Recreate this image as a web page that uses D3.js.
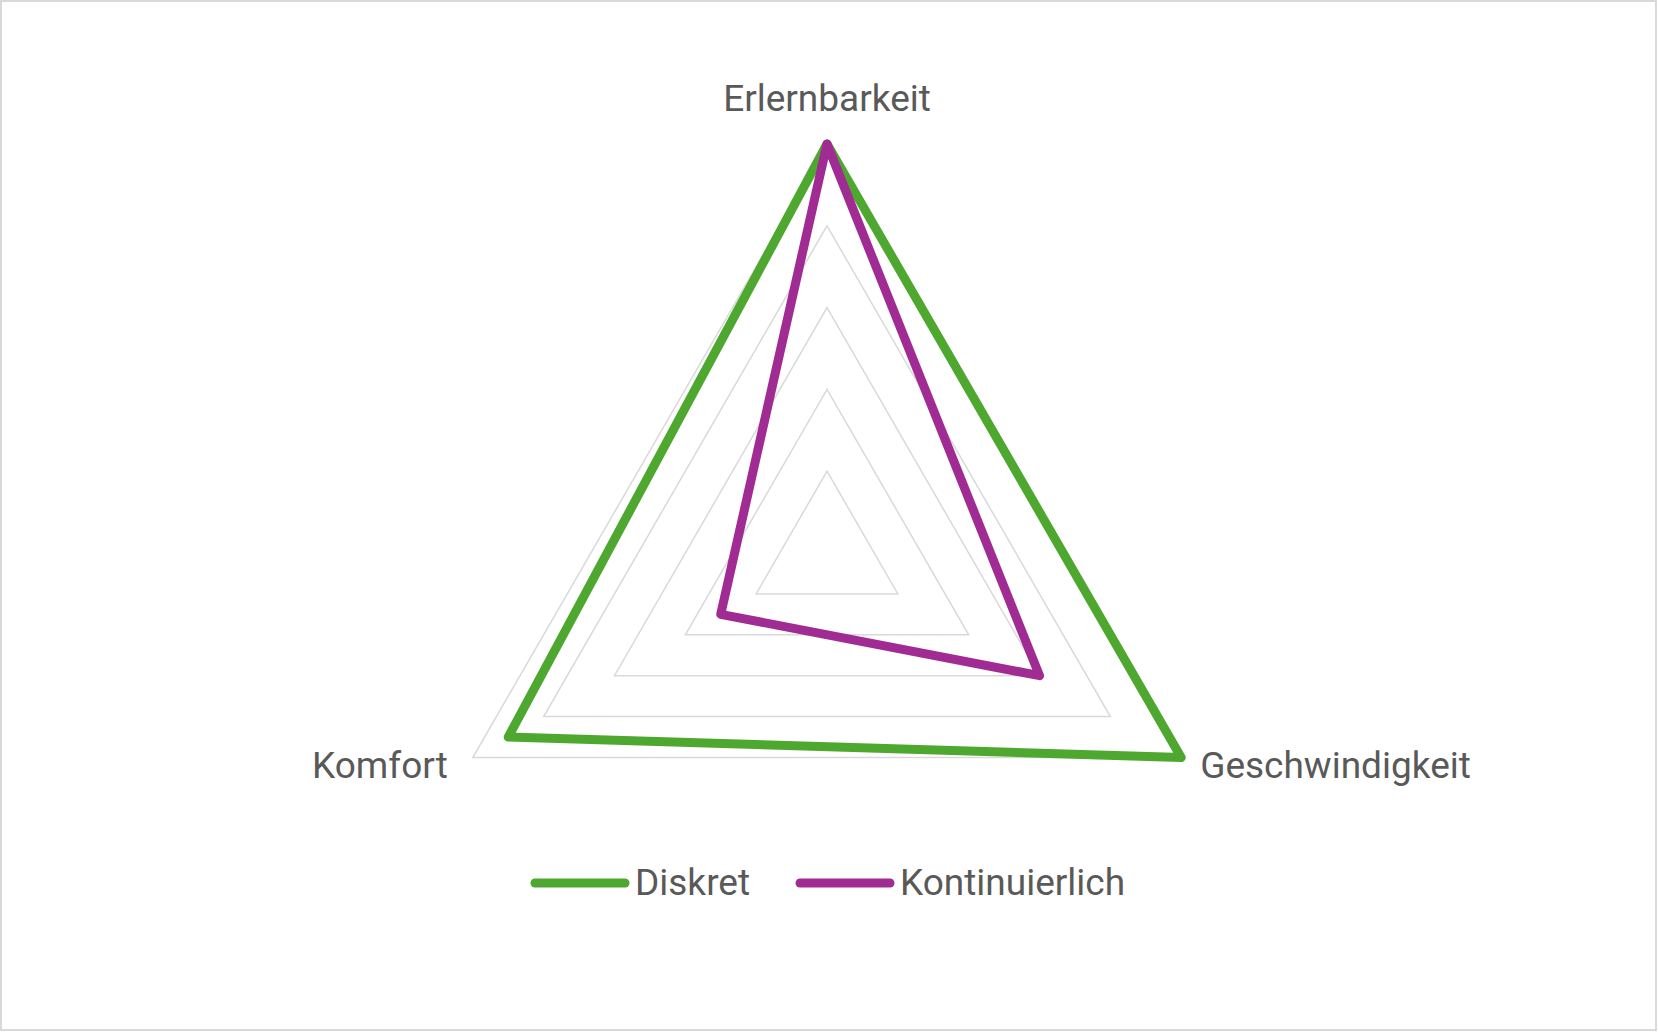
<!DOCTYPE html>
<html>
<head>
<meta charset="utf-8">
<script src="https://cdn.jsdelivr.net/npm/d3@7"></script>
<style>
    html, body { margin: 0; padding: 0; background: #fff; }
    svg { display: block; }
    text { font-family: Roboto, "Noto Sans", sans-serif; fill: #595959; }
</style>
</head>
<body>
<script>
// data
const axes = ["Erlernbarkeit", "Geschwindigkeit", "Komfort"];
const diskret = [5, 5, 4.5];
const kontinuierlich = [5, 3, 1.5];
const seriesNames = ["Diskret", "Kontinuierlich"];
const seriesColors = ["#4ea72e", "#a02b93"];
const gridLevels = [1, 2, 3, 4, 5];

const width = 1658, height = 1032;
const cx = 827, cy = 553, radius = 409;
const fontSize = 37;

const svg = d3.select("body").append("svg")
    .attr("width", width)
    .attr("height", height);

// chart border
svg.append("rect")
    .attr("x", 1).attr("y", 1)
    .attr("width", width - 3).attr("height", height - 3)
    .attr("fill", "#fff")
    .attr("stroke", "#d9d9d9")
    .attr("stroke-width", 2);

const r = d3.scaleLinear().domain([0, 5]).range([0, radius]);
const angle = i => i * 2 * Math.PI / axes.length;

const g = svg.append("g").attr("transform", `translate(${cx},${cy})`);

// grid triangles
const radial = d3.lineRadial()
    .angle((d, i) => angle(i))
    .radius(d => r(d))
    .curve(d3.curveLinearClosed);

g.selectAll(".grid")
    .data(gridLevels)
    .join("path")
    .attr("class", "grid")
    .attr("d", lvl => radial(axes.map(() => lvl)))
    .attr("fill", "none")
    .attr("stroke", "#d9d9d9")
    .attr("stroke-width", 1.5);

// series
const series = [diskret, kontinuierlich];
g.selectAll(".series")
    .data(series)
    .join("path")
    .attr("class", "series")
    .attr("d", d => radial(d))
    .attr("fill", "none")
    .attr("stroke", (d, i) => seriesColors[i])
    .attr("stroke-width", 9)
    .attr("stroke-linejoin", "round");

// axis labels
const pt = (v, i) => [r(v) * Math.sin(angle(i)), -r(v) * Math.cos(angle(i))];
const labelPos = [
    {dx: 0, dy: -33, anchor: "middle"},
    {dx: 19, dy: 20, anchor: "start"},
    {dx: -25, dy: 20, anchor: "end"}
];
g.selectAll(".axis-label")
    .data(axes)
    .join("text")
    .attr("class", "axis-label")
    .attr("x", (d, i) => pt(5, i)[0] + labelPos[i].dx)
    .attr("y", (d, i) => pt(5, i)[1] + labelPos[i].dy)
    .attr("text-anchor", (d, i) => labelPos[i].anchor)
    .attr("font-size", fontSize)
    .text(d => d);

// legend
const legendX = [531, 796];
const legendY = 883;
const legend = svg.append("g")
    .selectAll("g")
    .data(seriesNames)
    .join("g")
    .attr("transform", (d, i) => `translate(${legendX[i]},${legendY})`);

legend.append("line")
    .attr("x1", 4).attr("x2", 94)
    .attr("stroke", (d, i) => seriesColors[i])
    .attr("stroke-width", 9)
    .attr("stroke-linecap", "round");

legend.append("text")
    .attr("x", 104)
    .attr("y", 12)
    .attr("font-size", fontSize)
    .text(d => d);
</script>
</body>
</html>
